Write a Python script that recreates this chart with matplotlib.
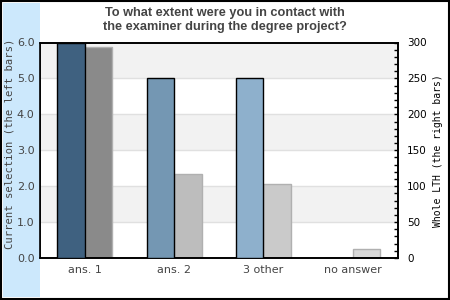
import matplotlib
matplotlib.use("Agg")
import matplotlib.pyplot as plt
from matplotlib.patches import Rectangle
import numpy as np

categories = ["ans. 1", "ans. 2", "3 other", "no answer"]
left_values = [6, 5, 5, 0]          # current selection
right_values = [294, 117, 103, 12]  # whole LTH
left_colors = ["#3f6180", "#7497b3", "#8eb0cc", "#a8c4dc"]
right_colors = ["#8a8a8a", "#bdbdbd", "#cacaca", "#d9d9d9"]
title = "To what extent were you in contact with\nthe examiner during the degree project?"
left_label = "Current selection (the left bars)"
right_label = "Whole LTH (the right bars)"

W, H = 450, 300
fig = plt.figure(figsize=(W / 100, H / 100), dpi=100)

# background strip and border
fig.patches.append(Rectangle((3 / W, 3 / H), 37 / W, 294 / H, transform=fig.transFigure,
                             facecolor="#cce8fc", edgecolor="none", zorder=0))
fig.patches.append(Rectangle((1 / W, 1 / H), 448 / W, 298 / H, transform=fig.transFigure,
                             facecolor="none", edgecolor="black", linewidth=1.5, zorder=5))

x0, x1, y0, y1 = 40, 397.5, 42.5, 258
ax = fig.add_axes([x0 / W, 1 - y1 / H, (x1 - x0) / W, (y1 - y0) / H])
ax2 = ax.twinx()

n = len(categories)
x = np.arange(n)
bw = 0.307

ax.set_xlim(-0.5, n - 0.5)
ax.set_ylim(0, 6)
ax2.set_ylim(0, 300)

# alternating bands (drawn on the back axes)
for k in range(6):
    if k % 2 == 1:
        ax2.axhspan(k * 50, (k + 1) * 50, facecolor="#f2f2f2", edgecolor="none", zorder=0)
for k in range(1, 6):
    ax2.axhline(k * 50, color="#e0e0e0", linewidth=1, zorder=0.5)

ax.bar(x - bw / 2, left_values, width=bw, color=left_colors, edgecolor="black",
       linewidth=1, zorder=3)
ax2.bar(x + bw / 2, right_values, width=bw, color=right_colors, edgecolor="#b0b0b0",
        linewidth=1, zorder=2)

ax.set_zorder(1)
ax2.set_zorder(0)
ax.patch.set_visible(False)
ax2.patch.set_visible(True)
ax2.patch.set_facecolor("white")

for a in (ax, ax2):
    for s in a.spines.values():
        s.set_color("black")
        s.set_linewidth(1.2)

ax.set_yticks(np.arange(0, 7, 1))
ax.set_yticklabels([f"{v:.1f}" for v in range(7)])
ax.tick_params(axis="y", length=0, pad=4, labelsize=8, labelcolor="#444444")
ax.set_xticks(x)
ax.set_xticklabels(categories)
ax.tick_params(axis="x", length=0, pad=5, labelsize=8, labelcolor="#444444")

ax2.set_yticks(np.arange(0, 301, 50))
ax2.set_yticks(np.arange(0, 301, 10), minor=True)
ax2.tick_params(axis="y", which="both", direction="in", length=3, width=1,
                pad=7, labelsize=7.5, labelcolor="black")

ax.set_ylabel(left_label, family="DejaVu Sans Mono", fontsize=7.6, color="#444444")
ax.yaxis.set_label_coords(-(40 - 14.5) / (x1 - x0), (258 - 144) / (y1 - y0))
ax2.set_ylabel(right_label, family="DejaVu Sans Mono", fontsize=7, color="black", labelpad=4)

fig.text(0.5, 1 - 20 / H, title, ha="center", va="center", fontsize=9.2,
         family="Liberation Sans", fontweight="bold", color="#444444", linespacing=1.3)

fig.savefig("out.png", dpi=100)
